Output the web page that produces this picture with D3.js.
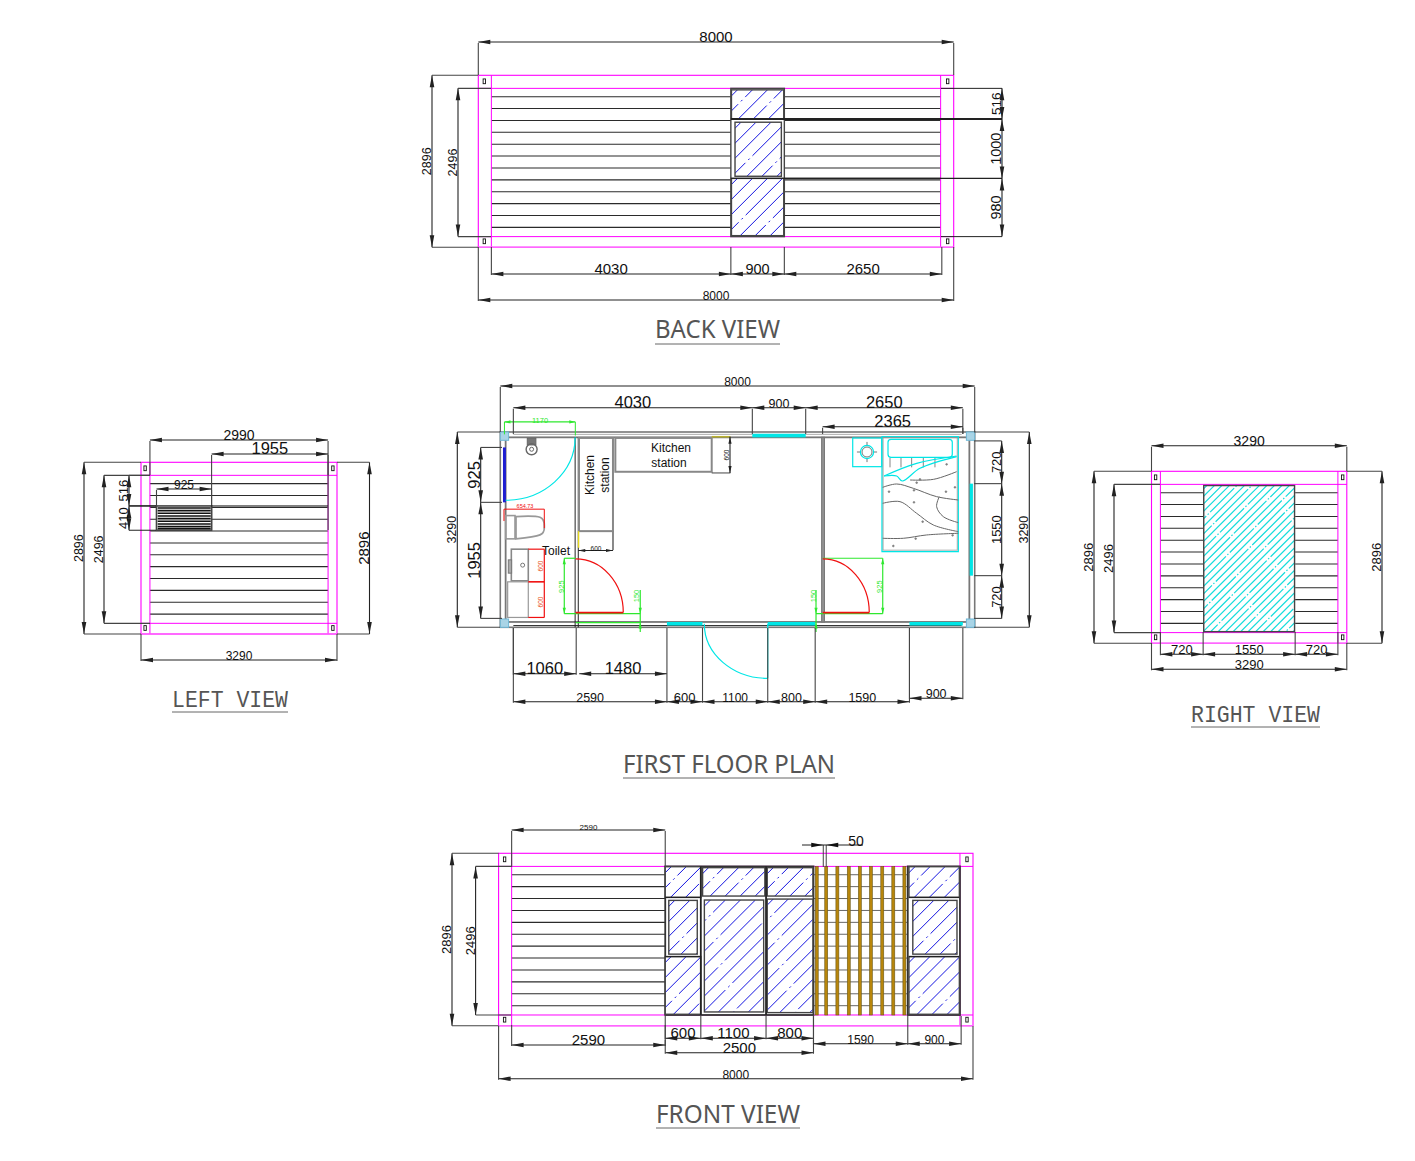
<!DOCTYPE html>
<html>
<head>
<meta charset="utf-8">
<style>
  body { margin: 0; background: #fff; }
  text { font-family: "Liberation Sans", Arial, sans-serif; fill: #111; }
</style>
<script src="https://cdn.jsdelivr.net/npm/d3@7"></script>
</head>
<body>
<script>
// all drawing values are millimetres
var houseLength = 8000, houseDepth = 3290, houseHeight = 2896;
var wallBand = [220, 2716];
var sidingLevels = [360, 560, 760, 960, 1160, 1360, 1560, 1760, 1960, 2160, 2360, 2560];

// back view
var backStops = [220, 4250, 5150, 7800];
var backLabels = ["4030", "900", "2650"];
var backWinLevels = [220, 736, 1736, 2716];
var backWinLabels = ["516", "1000", "980"];

// left view
var leftStops = [150, 3140];
var leftVentStops = [260, 1185];
var leftVentLevels = [220, 736, 1146];
var leftVentLabels = ["516", "410"];
var ventSlats = [770, 815, 860, 905, 950, 995, 1040, 1085, 1120];

// right view
var rightStops = [150, 870, 2420, 3140];
var rightLabels = ["720", "1550", "720"];

// front view
var frontStops = [2810, 3410, 4510, 5310];
var frontLabels = ["600", "1100", "800"];
var frontRightStops = [5310, 6900, 7800];
var frontRightLabels = ["1590", "900"];
var frontBars = [5340, 5500, 5688, 5880, 6067, 6253, 6445, 6631, 6818];
// [x1, x2, y1, y2]
var frontGlass = [
  [2810, 3410, 225, 741], [2870, 3350, 791, 1694], [2810, 3410, 1734, 2704],
  [3440, 4490, 241, 718], [3470, 4470, 785, 2665],
  [4530, 5300, 241, 718], [4530, 5300, 769, 2676],
  [6920, 7770, 225, 741], [6985, 7730, 791, 1694], [6920, 7770, 1734, 2704]
];
var backGlass = [
  [4260, 5140, 245, 736], [4320, 5100, 790, 1700], [4260, 5140, 1736, 2700]
];

// floor plan
var planTop = [220, 4250, 5150, 7800];
var planTopLabels = ["4030", "900", "2650"];
var planBottomA = [220, 1280];
var planBottomB = [1330, 2810];
var planBottom = [220, 2810, 3410, 4510, 5310, 6900];
var planBottomLabels = ["2590", "600", "1100", "800", "1590"];
var planLeftLevels = [260, 1185, 3140];
var planLeftLabels = ["925", "1955"];
var planRightLevels = [150, 870, 2420, 3140];
var planRightLabels = ["720", "1550", "720"];
var glazing = [[2810, 3410], [4510, 5310], [6900, 7800]];
// bed cover pattern, on a small local grid of the bed
var bedFolds = [
  [[84, 130], [155, 128], [224, 105]],
  [[2, 152], [44, 142], [94, 155], [164, 180], [229, 190]],
  [[2, 200], [54, 195], [104, 230], [154, 265], [229, 285]],
  [[2, 305], [64, 305], [134, 295], [229, 290]],
  [[172, 180], [164, 210], [184, 240], [229, 258]]
];
var bedFlap = [[6, 118], [44, 118], [61, 133], [114, 95], [224, 60]];
var bedFlap2 = [[6, 118], [104, 80], [224, 58]];
var bedDots = [[21, 165], [96, 161], [96, 197], [122, 255], [101, 306], [34, 328], [212, 296], [192, 165], [219, 152], [194, 83], [114, 128], [104, 138]];
var bedTicks = [24, 57, 89, 124, 159];
var toiletBowl = [[264, 1424], [669, 1436], [742, 1593], [669, 1733], [264, 1800]];

var svg = d3.select("body").append("svg")
    .attr("width", 1415)
    .attr("height", 1161);

var defs = svg.append("defs");
var clipCount = 0;

var magenta = "#ff00ff", cyan = "#00e6e6", green = "#2ee82e", red = "#f01010", grey = "#777";

function makeView(w, h, x0, x1, y0, y1) {
    return {
        w: w, h: h,
        x: d3.scaleLinear().domain([0, w]).range([x0, x1]),
        y: d3.scaleLinear().domain([0, h]).range([y0, y1])
    };
}

var backView = makeView(houseLength, houseHeight, 478.3, 953.7, 75.3, 247.3);
var leftView = makeView(houseDepth, houseHeight, 141, 337, 462.3, 634);
var rightView = makeView(houseDepth, houseHeight, 1151.5, 1346.8, 471.3, 643.3);
var frontView = makeView(houseLength, houseHeight, 498.6, 973, 853.3, 1025.7);
var planView = makeView(houseLength, houseDepth, 500.3, 974.7, 432, 627.3);

function px(x1, y1, x2, y2, color, width) {
    return svg.append("line")
        .attr("x1", x1).attr("y1", y1).attr("x2", x2).attr("y2", y2)
        .attr("stroke", color || "#222").attr("stroke-width", width || 1);
}

function seg(v, a, b, c, d, color, width) {
    return px(v.x(a), v.y(b), v.x(c), v.y(d), color, width);
}

function box(v, a, b, c, d, color, width, fill) {
    return svg.append("rect")
        .attr("x", v.x(a)).attr("y", v.y(b))
        .attr("width", v.x(c) - v.x(a)).attr("height", v.y(d) - v.y(b))
        .attr("fill", fill || "none")
        .attr("stroke", color || "#222").attr("stroke-width", width === undefined ? 1 : width);
}

// arrow head with its tip at x,y; dx,dy is the way it points
function arrow(x, y, dx, dy, color, len, half) {
    len = len || 12; half = half || 2.3;
    svg.append("path")
        .attr("d", "M" + x + "," + y +
            "L" + (x - dx * len - dy * half) + "," + (y - dy * len - dx * half) +
            "L" + (x - dx * len + dy * half) + "," + (y - dy * len + dx * half) + "Z")
        .attr("fill", color || "#111");
}

function label(x, y, txt, size, rotate, color) {
    var t = svg.append("text")
        .attr("text-anchor", "middle")
        .attr("font-size", size)
        .text(txt);
    if (rotate) t.attr("transform", "translate(" + x + "," + y + ") rotate(-90)");
    else t.attr("x", x).attr("y", y);
    if (color) t.style("fill", color);
    return t;
}

// horizontal dimension chain, extFrom is where the witness lines start
function dimH(v, stops, labels, y, size, extFrom, color, al) {
    color = color || "#222";
    var sizes = [].concat(size);
    px(v.x(stops[0]), y, v.x(stops[stops.length - 1]), y, color, 1.1);
    stops.forEach(function(s) {
        if (extFrom !== undefined) px(v.x(s), extFrom, v.x(s), y + 1, color === "#222" ? "#444" : color, 1.1);
    });
    labels.forEach(function(l, i) {
        var a = v.x(stops[i]), b = v.x(stops[i + 1]);
        arrow(a, y, -1, 0, color, al, al ? 1.6 : 0);
        arrow(b, y, 1, 0, color, al, al ? 1.6 : 0);
        label((a + b) / 2, y, l, sizes[i] || sizes[0], false, color === "#222" ? null : color);
    });
}

function dimV(v, stops, labels, x, size, extFrom, color, al) {
    color = color || "#222";
    var sizes = [].concat(size);
    px(x, v.y(stops[0]), x, v.y(stops[stops.length - 1]), color, 1.1);
    stops.forEach(function(s) {
        if (extFrom !== undefined) px(extFrom, v.y(s), x, v.y(s), color === "#222" ? "#444" : color, 1.1);
    });
    labels.forEach(function(l, i) {
        var a = v.y(stops[i]), b = v.y(stops[i + 1]);
        arrow(x, a, 0, -1, color, al, al ? 1.6 : 0);
        arrow(x, b, 0, 1, color, al, al ? 1.6 : 0);
        label(x - 1, (a + b) / 2, l, sizes[i] || sizes[0], true, color === "#222" ? null : color);
    });
}

function title(txt, x1, x2, y, underline, font, size) {
    svg.append("text")
        .attr("x", x1).attr("y", y)
        .attr("textLength", x2 - x1)
        .attr("lengthAdjust", "spacingAndGlyphs")
        .attr("font-size", size)
        .style("font-family", font)
        .style("fill", "#555")
        .text(txt);
    px(x1, underline, x2, underline, "#666", 1);
}

// shell shared by the four elevations: siding, pink band, corner boxes
function elevation(v, inset, sidingFrom, sidingTo) {
    sidingLevels.forEach(function(l) {
        seg(v, sidingFrom, l, sidingTo, l, "#2b2b2b", 1.1);
    });
    box(v, 0, 0, v.w, v.h, magenta, 1.1);
    seg(v, 0, wallBand[0], v.w, wallBand[0], magenta, 1);
    seg(v, 0, wallBand[1], v.w, wallBand[1], magenta, 1);
    seg(v, inset, 0, inset, v.h, magenta, 1);
    seg(v, v.w - inset, 0, v.w - inset, v.h, magenta, 1);
    seg(v, 0, v.h, v.w, v.h, "#ff66ff", 1.6);
    [inset * 0.46, v.w - inset * 0.46].forEach(function(cx) {
        [wallBand[0] * 0.46, v.h - wallBand[0] * 0.46].forEach(function(cy) {
            box(v, cx - 20, cy - 40, cx + 20, cy + 40, "#111", 0.9, "#fff");
        });
    });
}

// glass panel: frame plus clipped diagonal hatch
function glass(v, r, color, step, width, dashes, frame) {
    var x1 = v.x(r[0]), x2 = v.x(r[1]), y1 = v.y(r[2]), y2 = v.y(r[3]);
    var h = y2 - y1, id = "glass" + (clipCount++);
    defs.append("clipPath").attr("id", id).append("rect")
        .attr("x", x1).attr("y", y1).attr("width", x2 - x1).attr("height", h);
    var g = svg.append("g").attr("clip-path", "url(#" + id + ")");
    g.append("rect").attr("x", x1).attr("y", y1).attr("width", x2 - x1).attr("height", h).attr("fill", "#fff");
    g.selectAll("line").data(d3.range(x1 - h + step * 0.4, x2, step)).enter().append("line")
        .attr("x1", function(d) { return d; })
        .attr("y1", y2)
        .attr("x2", function(d) { return d + h; })
        .attr("y2", y1)
        .attr("stroke", color).attr("stroke-width", width)
        .attr("stroke-dasharray", function(d, i) { return dashes[i % dashes.length]; })
        .attr("stroke-dashoffset", function(d, i) { return i * 17; });
    box(v, r[0], r[2], r[1], r[3], frame || "#444", 1.4);
}

var blueDash = ["1000", "38 4 2 4 52 4 2 4", "1000", "70 4 2 4"];
var cyanDash = ["34 2 1.5 2", "1000", "46 2 1.5 2", "1000"];

// BACK VIEW
elevation(backView, 220, 220, 7780);
box(backView, 4250, 220, 5150, 2716, "#444", 1.4, "#fff");
backGlass.forEach(function(r) { glass(backView, r, "#1414e0", 15, 1, blueDash); });
seg(backView, 4250, 736, 7780, 736, "#222", 1.8);
seg(backView, 4250, 1736, 7780, 1736, "#222", 1.2);
dimH(backView, [0, houseLength], ["8000"], 42, 15, 75);
dimV(backView, [0, houseHeight], ["2896"], 432, 12.5, 478);
dimV(backView, wallBand, ["2496"], 458, 12.5, 491);
px(941, backView.y(220), 1002, backView.y(220), "#222", 1);
px(941, backView.y(2716), 1002, backView.y(2716), "#222", 1);
px(784, backView.y(736), 1002, backView.y(736), "#222", 1.8);
px(784, backView.y(1736), 1002, backView.y(1736), "#222", 1.2);
dimV(backView, backWinLevels, backWinLabels, 1002, [13.5, 14.5, 14.5]);
dimH(backView, backStops, backLabels, 274, [15, 14.5, 15], 247);
dimH(backView, [0, houseLength], ["8000"], 300, 12, 247);
title("BACK VIEW", 655, 780, 338, 344, "'Noto Sans', sans-serif", 26);

// LEFT VIEW
elevation(leftView, 150, 150, 3140);
box(leftView, 260, 736, 1185, 1146, "#444", 1.6, "#fff");
ventSlats.forEach(function(l) { seg(leftView, 280, l, 1170, l, "#111", 1.6); });
dimH(leftView, leftStops, ["2990"], 440, 14, 475);
dimH(leftView, [1185, 3140], ["1955"], 454, 16.5, 530);
dimH(leftView, leftVentStops, ["925"], 489, 12, 506);
px(129, leftView.y(736), 156, leftView.y(736), "#222", 1.6);
px(211, leftView.y(736), 328, leftView.y(736), "#222", 1);
px(129, leftView.y(1146), 156, leftView.y(1146), "#222", 1);
dimV(leftView, leftVentLevels, leftVentLabels, 129, 13, undefined);
px(129, leftView.y(220), 150, leftView.y(220), "#222", 1);
dimV(leftView, [0, houseHeight], ["2896"], 84, 12.5, 141);
dimV(leftView, wallBand, ["2496"], 104, 12.5, 150);
dimV(leftView, [0, houseHeight], ["2896"], 369.5, 15, 337);
dimH(leftView, [0, houseDepth], ["3290"], 660, 12, 634);
title("LEFT VIEW", 172, 288, 707, 712, "'Liberation Mono', monospace", 24);

// RIGHT VIEW
elevation(rightView, 150, 150, 3140);
svg.append("rect")
    .attr("x", rightView.x(870)).attr("y", rightView.y(240))
    .attr("width", rightView.x(2420) - rightView.x(870))
    .attr("height", rightView.y(2700) - rightView.y(240))
    .attr("fill", "#fff").attr("stroke", "none");
glass(rightView, [880, 2410, 240, 2700], "#14dcdc", 7.5, 1.2, cyanDash);
dimH(rightView, [0, houseDepth], ["3290"], 445.7, 14, 471);
dimV(rightView, [0, houseHeight], ["2896"], 1094, 13, 1151.5);
dimV(rightView, wallBand, ["2496"], 1114, 13, 1160);
dimV(rightView, [0, houseHeight], ["2896"], 1382, 13, 1346.8);
dimH(rightView, rightStops, rightLabels, 654.3, 13, 632);
dimH(rightView, [0, houseDepth], ["3290"], 669.3, 13, 643);
title("RIGHT VIEW", 1191, 1320, 722, 727, "'Liberation Mono', monospace", 24);

// FRONT VIEW
elevation(frontView, 220, 220, 2810);
sidingLevels.forEach(function(l) { seg(frontView, 5310, l, 6900, l, "#666", 1); });
box(frontView, 2810, 220, 5310, 2716, "#333", 1.8, "#fff");
box(frontView, 6900, 220, 7780, 2716, "#333", 1.8, "#fff");
frontGlass.forEach(function(r) { glass(frontView, r, "#1414e0", 15, 1, blueDash); });
seg(frontView, 2810, 741, 3410, 741, "#222", 1.2);
seg(frontView, 2810, 1734, 3410, 1734, "#222", 1.2);
seg(frontView, 6920, 741, 7770, 741, "#222", 1.2);
seg(frontView, 6920, 1734, 7770, 1734, "#222", 1.2);
seg(frontView, 3410, 220, 3410, 2716, "#222", 1.8);
seg(frontView, 4510, 220, 4510, 2716, "#222", 1.8);
frontBars.forEach(function(b) {
    svg.append("rect")
        .attr("x", frontView.x(b)).attr("y", frontView.y(220))
        .attr("width", frontView.x(b + 50) - frontView.x(b))
        .attr("height", frontView.y(2716) - frontView.y(220))
        .attr("fill", "#b8860b").attr("stroke", "#6b5a1a").attr("stroke-width", 0.6);
});
dimV(frontView, [0, houseHeight], ["2896"], 452, 13, 498.6);
dimV(frontView, wallBand, ["2496"], 475.6, 13, 511);
dimH(frontView, [220, 2810], ["2590"], 830, 8, 867);
dimH(frontView, [220, 2810], ["2590"], 1045, 15, 1025);
dimH(frontView, frontStops, frontLabels, 1038.3, 15, 1016);
dimH(frontView, [2810, 5310], ["2500"], 1052.7, 15, 1040);
dimH(frontView, frontRightStops, frontRightLabels, 1043.7, 12, 1016);
dimH(frontView, [0, houseLength], ["8000"], 1078.7, 12, 1026);
// the 50 dimension sits outside its witness lines
var bar50 = [5475, 5525];
bar50.forEach(function(b) { px(frontView.x(b), 845, frontView.x(b), 867, "#444", 1); });
px(802, 845, 863, 845, "#222", 1);
arrow(frontView.x(bar50[0]), 845, 1, 0);
arrow(frontView.x(bar50[1]), 845, -1, 0);
label(856, 846, "50", 14);
title("FRONT VIEW", 656, 800, 1123, 1128, "'Noto Sans', sans-serif", 26);

// FIRST FLOOR PLAN
var p = planView;
var lineCurve = d3.line().x(function(d) { return p.x(d[0]); }).y(function(d) { return p.y(d[1]); });

// door swings and shower screen: a quarter ellipse round a hinge
function swing(cx, cy, ex, ey, color, sweep) {
    svg.append("path")
        .attr("d", "M" + p.x(cx) + "," + p.y(ey) +
            "A" + Math.abs(p.x(ex) - p.x(cx)) + "," + Math.abs(p.y(ey) - p.y(cy)) + " 0 0 " + sweep + " " + p.x(ex) + "," + p.y(cy))
        .attr("fill", "none").attr("stroke", color).attr("stroke-width", 1.2);
}

box(p, 0, 0, p.w, p.h, grey, 1.6);
box(p, 90, 90, p.w - 90, p.h - 90, grey, 1.8);
seg(p, 220, p.h - 30, p.w - 220, p.h - 30, "#333", 1);
seg(p, 220, 40, p.w - 220, 40, "#999", 0.8);
[[0, 0], [p.w - 140, 0], [0, p.h - 140], [p.w - 140, p.h - 140]].forEach(function(c) {
    box(p, c[0], c[1], c[0] + 140, c[1] + 140, "#6fb8d6", 1, "#a9d4e6");
});

// partitions
seg(p, 1262, 90, 1262, p.h, "#222", 1);
seg(p, 1315, 90, 1315, p.h, "#222", 1);
box(p, 5420, 90, 5465, p.h - 90, grey, 1.2, "#999");

// cyan glazing and the door leaf
box(p, 4250, 30, 5150, 90, cyan, 0, cyan);
glazing.forEach(function(g) { box(p, g[0], p.h - 90, g[1], p.h - 30, cyan, 0, cyan); });
box(p, 7915, 870, 7970, 2420, cyan, 0, cyan);
box(p, 45, 260, 95, 1185, "#1e1ed2", 0, "#1e1ed2");
seg(p, 4510, p.h - 60, 4510, 4150, cyan, 1.2);
swing(4510, p.h - 60, 3440, 4150, cyan, 1);
swing(90, 90, 1262, 1150, cyan, 0);

// kitchen runs
box(p, 1327, 100, 1900, 1670, "#888", 2);
seg(p, 1900, 1670, 1900, 1990, "#888", 2);
seg(p, 1320, 1670, 1320, 1950, "#e5d820", 1.4);
box(p, 1940, 100, 3565, 670, "#888", 2);
seg(p, 3565, 80, 3880, 80, "#b8b030", 1.6);
seg(p, 3565, 690, 3880, 690, "#444", 1);
dimV(p, [80, 690], [""], 730, 7, undefined, "#222", 7);
label(729, 455, "600", 6.5, true);
dimH(p, [1315, 1900], [""], 550.5, 7, undefined, "#222", 7);
label(596, 551, "600", 6.5);
label(671, 452, "Kitchen", 12);
label(669, 467, "station", 12);
label(594, 475, "Kitchen", 12, true);
label(609, 475, "station", 12, true);

// toilet, sink, shower head
box(p, 455, 106, 600, 218, "#666", 1, "#777");
svg.append("circle").attr("cx", p.x(528)).attr("cy", p.y(291)).attr("r", 5.5).attr("fill", "none").attr("stroke", "#666").attr("stroke-width", 1.4);
svg.append("circle").attr("cx", p.x(528)).attr("cy", p.y(291)).attr("r", 2).attr("fill", "none").attr("stroke", "#666").attr("stroke-width", 1);
box(p, 90, 1408, 248, 1800, "#999", 1.6);
svg.append("path").attr("d", lineCurve.curve(d3.curveCardinal)(toiletBowl) + "Z")
    .attr("fill", "none").attr("stroke", "#999").attr("stroke-width", 1.8);
box(p, 186, 1974, 472, 2507, "#888", 1.6);
box(p, 124, 2524, 472, 3124, "#999", 1.2);
box(p, 135, 2154, 191, 2378, "#777", 1, "#aaa");
svg.append("circle").attr("cx", p.x(377)).attr("cy", p.y(2243)).attr("r", 2).attr("fill", "none").attr("stroke", "#777");
label(556, 555, "Toilet", 12);

// red sanitary dimensions
seg(p, 62, 1300, 742, 1300, red, 1);
seg(p, 62, 1300, 62, 1500, red, 1);
seg(p, 742, 1300, 742, 1620, red, 1);
label(525, 508, "654.73", 5.5, false, red);
seg(p, 472, 1974, 742, 1974, red, 1.2);
seg(p, 472, 2524, 742, 2524, red, 1.6);
seg(p, 472, 3124, 742, 3124, red, 1.2);
seg(p, 742, 1974, 742, 3124, red, 1.2);
label(542.5, 566, "600", 6.5, true, "#e8501a");
label(542.5, 602, "600", 6.5, true, "#e8501a");

// green sizes of the doors, then the doors in red on top
seg(p, 1079, 2127, 1271, 2127, green, 1.2);
seg(p, 1079, 2127, 1079, 3060, green, 1.2);
seg(p, 1079, 3060, 2360, 3060, green, 1.2);
seg(p, 1271, 3210, 2360, 3210, green, 1.2);
seg(p, 2360, 2660, 2360, 3370, green, 1.2);
arrow(p.x(1079), p.y(2127), 0, -1, green, 6, 1.6);
arrow(p.x(1079), p.y(3060), 0, 1, green, 6, 1.6);
arrow(p.x(2360), p.y(3060), 0, 1, green, 6, 1.6);
arrow(p.x(2360), p.y(3210), 0, -1, green, 6, 1.6);
label(564, 586.7, "925", 7.5, true, green);
label(639, 596, "150", 7.5, true, green);
seg(p, 5437, 2127, 6449, 2127, green, 1.2);
seg(p, 6449, 2127, 6449, 3060, green, 1.2);
seg(p, 5324, 3060, 6449, 3060, green, 1.2);
seg(p, 5324, 2660, 5324, 3370, green, 1.2);
arrow(p.x(6449), p.y(2127), 0, -1, green, 6, 1.6);
arrow(p.x(6449), p.y(3060), 0, 1, green, 6, 1.6);
arrow(p.x(5324), p.y(3060), 0, 1, green, 6, 1.6);
arrow(p.x(5324), p.y(3210), 0, -1, green, 6, 1.6);
label(881.5, 586.7, "925", 7.5, true, green);
label(816, 596, "150", 7.5, true, green);
seg(p, 1271, 3042, 2074, 3042, red, 1.6);
swing(1271, 3042, 2074, 2138, red, 1);
seg(p, 5437, 3042, 6222, 3042, red, 1.6);
swing(5437, 3042, 6222, 2138, red, 1);

// 1170 over the shower
seg(p, 70, -170, 1265, -170, green, 1.2);
seg(p, 70, -170, 70, 40, green, 1);
seg(p, 1265, -170, 1265, 60, green, 1);
arrow(p.x(70), p.y(-170), -1, 0, green, 6, 1.6);
arrow(p.x(1265), p.y(-170), 1, 0, green, 6, 1.6);
label(540, 423, "1170", 7.5, false, green);

// cooker
box(p, 5943, 101, 6432, 584, cyan, 1.2);
seg(p, 6014, 337, 6354, 337, "#777", 1);
seg(p, 6184, 167, 6184, 507, "#777", 1);
svg.append("circle").attr("cx", p.x(6184)).attr("cy", p.y(337)).attr("r", 6.6).attr("fill", "#fff").attr("stroke", cyan).attr("stroke-width", 1.2);
svg.append("circle").attr("cx", p.x(6184)).attr("cy", p.y(337)).attr("r", 5).attr("fill", "none").attr("stroke", "#777").attr("stroke-width", 1);

// bed
box(p, 6437, 79, 7723, 2015, cyan, 1.3);
box(p, 6455, 90, 7705, 1990, "#999", 0.8);
var bedX = d3.scaleLinear().domain([0, 229]).range([p.x(6437), p.x(7723)]);
var bedY = d3.scaleLinear().domain([0, 345]).range([p.y(79), p.y(2015)]);
var bedLine = d3.line().x(function(d) { return bedX(d[0]); }).y(function(d) { return bedY(d[1]); });
svg.append("rect")
    .attr("x", bedX(18)).attr("y", bedY(8))
    .attr("width", bedX(211) - bedX(18)).attr("height", bedY(62) - bedY(8))
    .attr("rx", 3)
    .attr("fill", "none").attr("stroke", cyan).attr("stroke-width", 1.2);
bedTicks.forEach(function(t) {
    px(bedX(t), bedY(64), bedX(t), bedY(92), "#666", 0.8);
});
bedFolds.forEach(function(f) {
    svg.append("path").attr("d", bedLine.curve(d3.curveCatmullRom)(f))
        .attr("fill", "none").attr("stroke", "#666").attr("stroke-width", 1);
});
[bedFlap, bedFlap2].forEach(function(f) {
    svg.append("path").attr("d", bedLine.curve(d3.curveCatmullRom)(f))
        .attr("fill", "none").attr("stroke", cyan).attr("stroke-width", 1.2);
});
bedDots.forEach(function(d) {
    svg.append("circle").attr("cx", bedX(d[0])).attr("cy", bedY(d[1])).attr("r", 0.9)
        .attr("fill", "#888").attr("stroke", "#666").attr("stroke-width", 0.5);
});

// plan dimensions
dimH(p, [0, houseLength], ["8000"], 386, 12, 432);
dimH(p, planTop, planTopLabels, 407.7, [16.5, 12.5, 16.5], 434);
dimH(p, [5435, 7800], ["2365"], 426.7, 16.5, 434);
dimV(p, [0, houseDepth], ["3290"], 457.3, 12.5, 500);
dimV(p, planLeftLevels, planLeftLabels, 480.7, 16.5, 502);
dimV(p, planRightLevels, planRightLabels, 1001.7, 13, 974);
dimV(p, [0, houseDepth], ["3290"], 1029.3, 12.5, 974);
dimH(p, planBottomA, ["1060"], 673.7, 16.5, 628);
dimH(p, planBottomB, ["1480"], 673.7, 16.5);
dimH(p, planBottom, planBottomLabels, 701.7, [12.5, 13, 12, 12.5, 12.5], 628);
dimH(p, [6900, 7800], ["900"], 698.3, 12.5, 628);
title("FIRST FLOOR PLAN", 623, 835, 773, 778, "'Noto Sans', sans-serif", 26);
</script>
</body>
</html>
